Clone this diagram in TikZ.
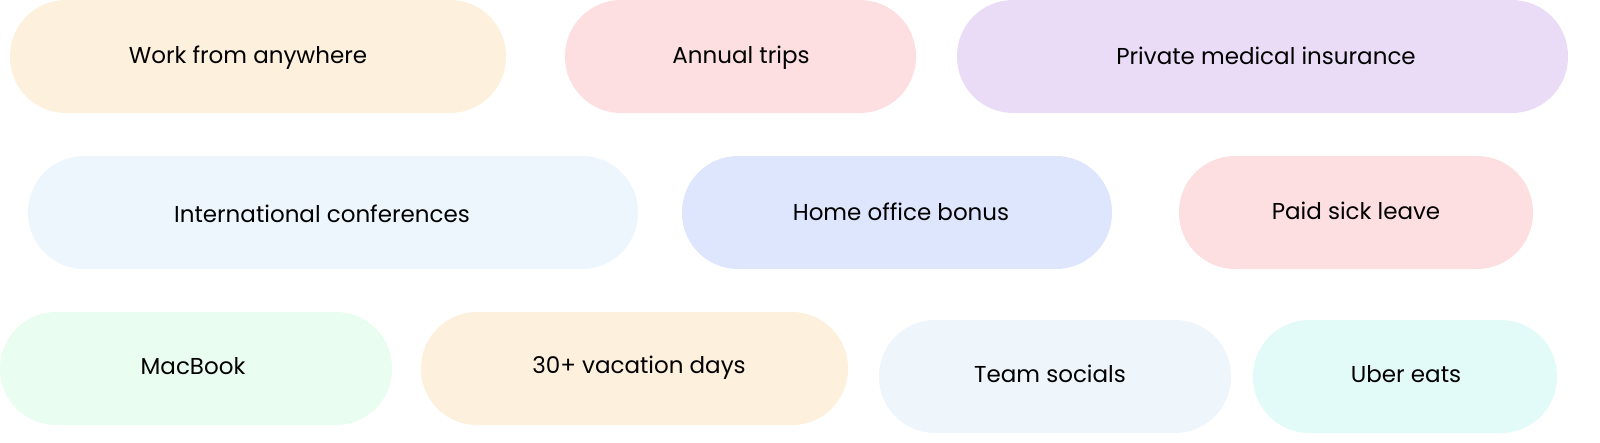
\documentclass[tikz,border=0pt]{standalone}
\usepackage{fontspec}
\setmainfont{Poppins}
\definecolor{cA}{HTML}{FDF0DC}
\definecolor{cB}{HTML}{FDDFE2}
\definecolor{cC}{HTML}{EADCF7}
\definecolor{cD}{HTML}{EEF6FD}
\definecolor{cE}{HTML}{DDE6FD}
\definecolor{cF}{HTML}{E9FDF0}
\definecolor{cG}{HTML}{E3FBF8}
\definecolor{cH}{HTML}{EEF5FB}
\begin{document}
\begin{tikzpicture}[x=1pt,y=-1pt,
 pill/.style={rectangle,rounded corners=56pt,minimum height=113pt,inner sep=0pt,draw=none},
 lab/.style={font=\fontsize{23}{27}\selectfont,text=black}]
\useasboundingbox (0,0) rectangle (1600,442);
\newcommand{\pl}[8]{% name, x1, x2, ytop, color, tx, ty, text
 \pgfmathsetmacro{\pw}{#3-#2}%
 \node[pill,fill=#5,minimum width=\pw pt] (#1) at ({(#2+#3)/2},{#4+56.5}) {};
 \node[lab] (#1t) at (#6,#7) {#8};}
\pl{a}{10}{506}{0}{cA}{248}{58}{Work from anywhere}
\pl{b}{565}{916}{0}{cB}{741}{58}{Annual trips}
\pl{c}{957}{1568}{0}{cC}{1266}{56}{Private medical insurance}
\pl{d}{28}{638}{156}{cD}{322}{214}{International conferences}
\pl{e}{682}{1112}{156}{cE}{901}{212}{Home office bonus}
\pl{f}{1179}{1533}{156}{cB}{1356}{211}{Paid sick leave}
\pl{g}{0}{392}{312}{cF}{193}{366}{MacBook}
\pl{h}{421}{848}{312}{cA}{639}{368}{30+ vacation days}
\pl{i}{879}{1231}{320}{cH}{1050}{374}{Team socials}
\pl{j}{1253}{1557}{320}{cG}{1406}{374}{Uber eats}
\end{tikzpicture}
\end{document}
